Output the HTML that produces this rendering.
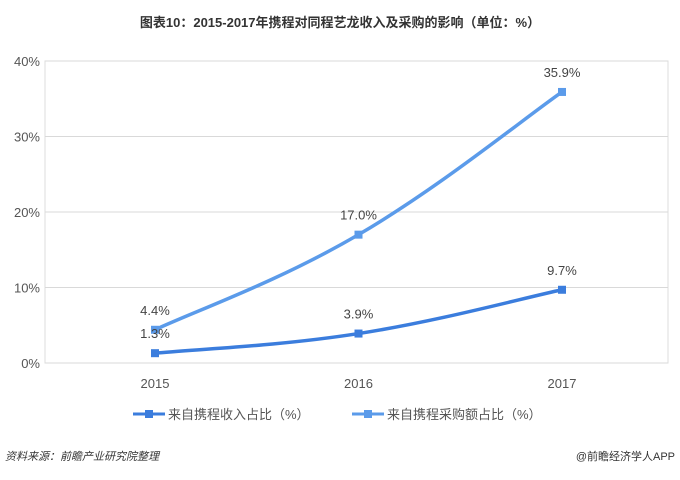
<!DOCTYPE html>
<html><head><meta charset="utf-8"><style>
body{margin:0;background:#fff;width:680px;height:475px;overflow:hidden;font-family:"Liberation Sans","Noto Sans CJK SC",sans-serif;}
</style></head><body>
<svg width="680" height="475" xmlns="http://www.w3.org/2000/svg" font-family="Liberation Sans, Noto Sans CJK SC, sans-serif">
<text x="340" y="27" text-anchor="middle" font-size="13" font-weight="bold" fill="#333">图表10：2015-2017年携程对同程艺龙收入及采购的影响（单位：%）</text>
<g id="grid"></g><g id="yt"></g><g id="xt"></g><g id="series"></g>
<g>
<g><line x1="133" y1="414" x2="165" y2="414" stroke="#3b7ddd" stroke-width="3"/><rect x="145" y="410" width="8" height="8" fill="#3b7ddd"/><text x="168" y="419" font-size="13" fill="#555">来自携程收入占比（%）</text></g>
<g><line x1="352" y1="414" x2="384" y2="414" stroke="#5b9bea" stroke-width="3"/><rect x="364" y="410" width="8" height="8" fill="#5b9bea"/><text x="387" y="419" font-size="13" fill="#555">来自携程采购额占比（%）</text></g>
</g>
<text x="5" y="460" font-size="11" font-style="italic" fill="#333">资料来源：前瞻产业研究院整理</text>
<text x="675" y="460" text-anchor="end" font-size="11" fill="#333">@前瞻经济学人APP</text>
</svg>
<script>
const categories=["2015","2016","2017"];
const revenue=[1.3,3.9,9.7];
const purchase=[4.4,17.0,35.9];
const yTicks=[0,10,20,30,40];
const ns="http://www.w3.org/2000/svg";
const X=i=>155+i*203.5, Y=v=>363-v*7.55;
function mk(t,a,p){const e=document.createElementNS(ns,t);for(const k in a)e.setAttribute(k,a[k]);p.appendChild(e);return e;}
const grid=document.getElementById('grid'),yt=document.getElementById('yt'),xt=document.getElementById('xt'),sg=document.getElementById('series');
mk('rect',{x:45,y:Y(40),width:623,height:Y(0)-Y(40),fill:'none',stroke:'#ddd'},grid);
yTicks.forEach(v=>{const l=mk('line',{x1:45,x2:668,y1:Y(v),y2:Y(v),stroke:'#d9d9d9'},grid);


const t=mk('text',{x:40,y:Y(v)+5,'text-anchor':'end','font-size':13,fill:'#555'},yt);t.textContent=v+'%';

});
categories.forEach((c,i)=>{const t=mk('text',{x:X(i),y:388,'text-anchor':'middle','font-size':13,fill:'#555'},xt);t.textContent=c;

});
function path(vals){const p=vals.map((v,i)=>[X(i),Y(v)]);let d='M'+p[0];for(let i=0;i<p.length-1;i++){const p0=p[i-1]||p[i],p1=p[i],p2=p[i+1],p3=p[i+2]||p2;const k=0.2;d+=' C'+(p1[0]+(p2[0]-p0[0])*k)+','+(p1[1]+(p2[1]-p0[1])*k)+' '+(p2[0]-(p3[0]-p1[0])*k)+','+(p2[1]-(p3[1]-p1[1])*k)+' '+p2;}return d;}
function draw(vals,col,name,off){const g=mk('g',{},sg);


mk('path',{d:path(vals),fill:'none',stroke:col,'stroke-width':3.5},g);
vals.forEach((v,i)=>{const r=mk('rect',{x:X(i)-4,y:Y(v)-4,width:8,height:8,fill:col},g);


const t=mk('text',{x:X(i),y:Y(v)-off,'text-anchor':'middle','font-size':13,fill:'#444'},g);t.textContent=v.toFixed(1)+'%';

});}
draw(purchase,'#5b9bea','purchase-series',15);
draw(revenue,'#3b7ddd','revenue-series',15);
</script>
</body></html>
